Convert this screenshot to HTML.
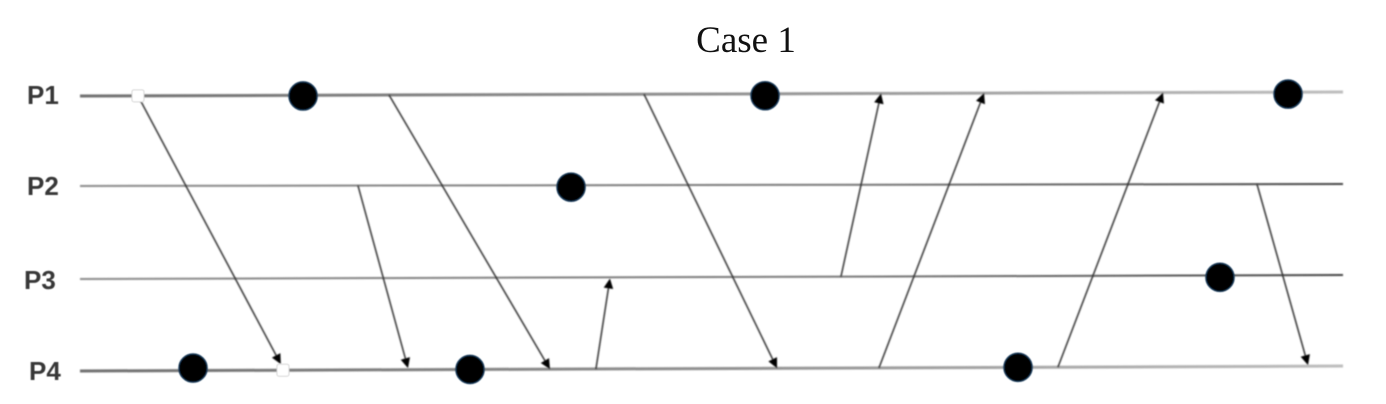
<!DOCTYPE html>
<html lang="en">
<head>
<meta charset="utf-8">
<title>Case 1</title>
<style>
html,body{margin:0;padding:0;background:#fff;width:1386px;height:404px;overflow:hidden}
svg{display:block}
</style>
</head>
<body>
<svg id="chart" width="1386" height="404" viewBox="0 0 1386 404" xmlns="http://www.w3.org/2000/svg">
<defs>
<filter id="soft" x="0" y="0" width="1386" height="404" filterUnits="userSpaceOnUse"><feGaussianBlur stdDeviation="0.6"/></filter>
<filter id="softer" x="0" y="0" width="1386" height="404" filterUnits="userSpaceOnUse"><feGaussianBlur stdDeviation="0.7"/></filter>
<linearGradient id="fadeLight" gradientUnits="userSpaceOnUse" x1="80" y1="0" x2="1343" y2="0">
<stop offset="0" stop-color="#6e6e6e"/><stop offset="0.5" stop-color="#8f8f8f"/><stop offset="1" stop-color="#bdbdbd"/>
</linearGradient>
<linearGradient id="fadeDark" gradientUnits="userSpaceOnUse" x1="80" y1="0" x2="1343" y2="0">
<stop offset="0" stop-color="#8a8a8a"/><stop offset="0.6" stop-color="#777777"/><stop offset="1" stop-color="#444444"/>
</linearGradient>
</defs>
<text x="746" y="52" text-anchor="middle" font-family="'Liberation Serif',serif" font-size="37" fill="#111">Case 1</text>
<g id="lines" filter="url(#softer)"></g>
<g id="messages" filter="url(#softer)"></g>
<g id="events" filter="url(#soft)"></g>
<g id="labels" filter="url(#soft)"></g>
</svg>
<script>
// Process names and timeline levels (level 0 = bottom lane, 100 = top lane)
const processes = ['P1', 'P2', 'P3', 'P4'];
const laneStart = [100, 67.27, 33.45, 0];
const laneEnd = [101.45, 68, 34.9, 1.8];

// Filled events: process index, time (0-100), and offset from the lane (levels)
const eventProcess = [0, 0, 0, 1, 2, 3, 3, 3];
const eventTime = [17.66, 54.24, 95.65, 38.88, 90.26, 8.95, 30.88, 74.27];
const eventOffset = [-0.25, -0.7, -0.7, -0.7, -0.7, 0.9, 0, 0];

// Hollow events: process index and time
const hollowProcess = [0, 3];
const hollowTime = [4.59, 16.07];

// Messages: sender, send time, receiver, receive time, and how far short of the lane the arrow stops (levels)
const msgFrom = [0, 1, 0, 3, 0, 2, 3, 3, 1];
const msgSend = [4.59, 22.01, 24.47, 40.85, 44.66, 60.25, 63.26, 77.43, 93.19];
const msgTo = [3, 3, 3, 2, 3, 0, 0, 0, 3];
const msgRecv = [15.9, 25.97, 37.21, 41.96, 55.19, 63.42, 71.58, 85.75, 97.23];
const msgShort = [2.2, 0.6, 0, 0.4, 0, 0, 0, 0, 0.4];

const NS = 'http://www.w3.org/2000/svg';
const xAxis = t => 80 + t * 12.63;
const yLevel = v => 371 - v * 2.75;
const laneLevel = (p, t) => laneStart[p] + (laneEnd[p] - laneStart[p]) * t / 100;
const laneY = (p, t) => yLevel(laneLevel(p, t));
const laneStroke = [
  ['url(#fadeLight)', 3], ['url(#fadeDark)', 2], ['url(#fadeDark)', 2], ['url(#fadeLight)', 3]
];
const linesG = document.getElementById('lines');
const msgG = document.getElementById('messages');
const evG = document.getElementById('events');
const labG = document.getElementById('labels');

function mk(tag, attrs, parent) {
  const el = document.createElementNS(NS, tag);
  for (const k in attrs) el.setAttribute(k, attrs[k]);
  parent.appendChild(el);
  return el;
}

const labelX = [27, 27, 24, 29];
const labelDy = [8, 9, 10, 9];
processes.forEach((name, i) => {
  const line = mk('path', {
    d: 'M' + xAxis(0) + ' ' + laneY(i, 0) + 'L' + xAxis(100) + ' ' + laneY(i, 100),
    fill: 'none', stroke: laneStroke[i][0], 'stroke-width': laneStroke[i][1]
  }, linesG);
  
  
  const label = mk('text', {
    x: labelX[i], y: laneY(i, 0) + labelDy[i],
    'font-family': "'Liberation Sans',sans-serif", 'font-size': 26,
    'font-weight': 'bold', fill: '#383838'
  }, labG);
  label.textContent = name;
  
  
});

msgSend.forEach((s, i) => {
  const x1 = xAxis(s), y1 = laneY(msgFrom[i], s);
  const r = msgRecv[i], x2 = xAxis(r);
  const dirDown = msgTo[i] > msgFrom[i];
  const y2 = yLevel(laneLevel(msgTo[i], r) + (dirDown ? msgShort[i] : -msgShort[i]));
  const a = Math.atan2(y2 - y1, x2 - x1);
  const g = mk('g', {}, msgG);
  
  
  mk('line', { x1: x1, y1: y1, x2: x2 - 4 * Math.cos(a), y2: y2 - 4 * Math.sin(a), stroke: '#333333', 'stroke-width': 1.5 }, g);
  const L = 10, W = 4.8;
  const bx = x2 - L * Math.cos(a), by = y2 - L * Math.sin(a);
  const nx = -Math.sin(a) * W, ny = Math.cos(a) * W;
  mk('polygon', { points: [x2, y2, bx + nx, by + ny, bx - nx, by - ny].join(' '), fill: '#000' }, g);
});

eventTime.forEach((t, i) => {
  const c = mk('circle', {
    cx: xAxis(t), cy: yLevel(laneLevel(eventProcess[i], t) + eventOffset[i]), r: 14.2,
    fill: '#000', stroke: '#1c3d5c', 'stroke-width': 1.2
  }, evG);
  
  
});

hollowTime.forEach((t, i) => {
  const s = 12;
  const r = mk('rect', {
    x: xAxis(t) - s / 2, y: laneY(hollowProcess[i], t) - s / 2, width: s, height: s, rx: 2,
    fill: '#fff', stroke: '#d5d5d5', 'stroke-width': 1
  }, evG);
  
  
});
</script>
</body>
</html>
